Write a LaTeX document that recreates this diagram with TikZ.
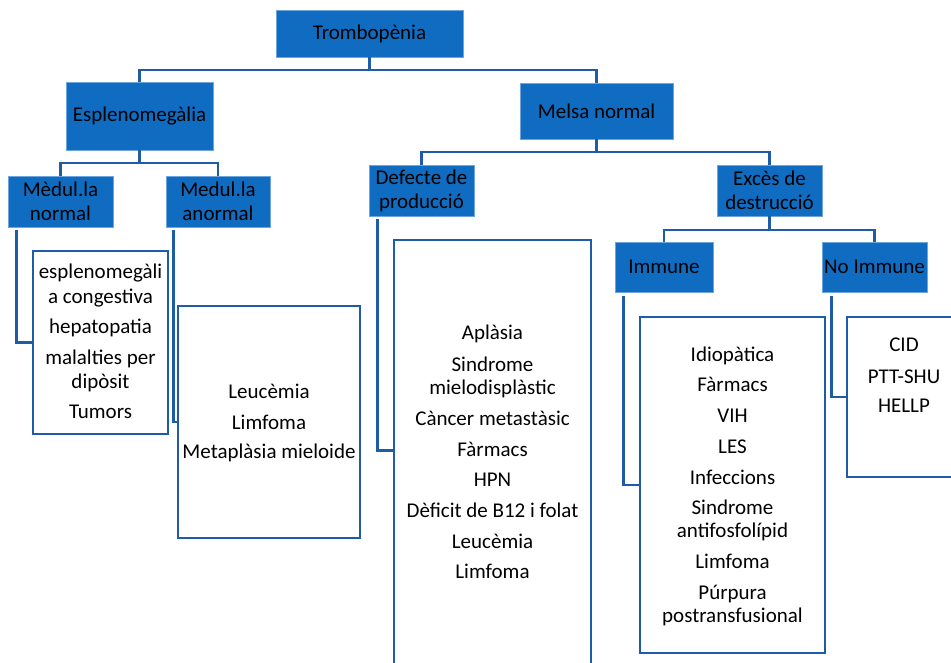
\documentclass[tikz,border=0pt]{standalone}
\usepackage{fontspec}
\setmainfont{Carlito}
\usetikzlibrary{calc}
\definecolor{boxfill}{RGB}{16,108,192}
\definecolor{boxedge}{RGB}{110,165,220}
\definecolor{linecol}{RGB}{30,92,165}
\begin{document}
\begin{tikzpicture}[x=1pt,y=-1pt,
  hdr/.style={rectangle, fill=boxfill, draw=boxedge, line width=0.8pt, align=center, inner sep=0pt, text=black, font=\fontsize{21}{24}\selectfont},
  lst/.style={rectangle, draw=linecol, line width=2.7pt, inner sep=0pt},
  conn/.style={draw=linecol, line width=2.7pt},
  itm/.style={anchor=base, inner sep=0pt, text=black, font=\fontsize{21}{24}\selectfont}]
\useasboundingbox (0,0) rectangle (951,663);

% header boxes
\node[hdr, minimum width=187pt, minimum height=47pt] (trom) at (369.5,33.5) {Trombopènia};
\node[hdr, minimum width=147pt, minimum height=68pt] (esp) at (139.5,116) {Esplenomegàlia};
\node[hdr, minimum width=153pt, minimum height=56pt] (melsa) at (596.5,111) {Melsa normal};
\node[hdr, minimum width=105pt, minimum height=51pt] (mn) at (60.5,201.5) {Mèdul.la\\normal};
\node[hdr, minimum width=104pt, minimum height=51pt] (ma) at (218,201.5) {Medul.la\\anormal};
\node[hdr, minimum width=105pt, minimum height=51pt] (def) at (421.5,190.5) {Defecte de\\producció};
\node[hdr, minimum width=105pt, minimum height=51pt] (exc) at (769.5,190.5) {Excès de\\destrucció};
\node[hdr, minimum width=98pt, minimum height=50pt] (imm) at (664,267) {Immune};
\node[hdr, minimum width=105pt, minimum height=50pt] (noimm) at (874.5,267) {No Immune};

% list boxes
\node[lst, minimum width=135pt, minimum height=183pt] (L1) at (100.5,342.5) {};
\node[lst, minimum width=182pt, minimum height=232pt] (L2) at (269,422) {};
\node[lst, minimum width=197pt, minimum height=430pt] (L3) at (492.5,455) {};
\node[lst, minimum width=185pt, minimum height=336pt] (L4) at (732.5,485) {};
\node[lst, minimum width=114pt, minimum height=160pt] (L5) at (904,397) {};

% tree connectors
\coordinate (b1) at (369.5,70);
\draw[conn] (trom.south) -- (b1);
\draw[conn] (esp.north) -- (esp.north |- b1) -- (melsa.north |- b1) -- (melsa.north);
\coordinate (b2) at (139.5,163);
\draw[conn] (esp.south) -- (b2);
\draw[conn] (mn.north) -- (mn.north |- b2) -- (ma.north |- b2) -- (ma.north);
\coordinate (b3) at (596.5,152);
\draw[conn] (melsa.south) -- (b3);
\draw[conn] (def.north) -- (def.north |- b3) -- (exc.north |- b3) -- (exc.north);
\coordinate (b4) at (769.5,230);
\draw[conn] (exc.south) -- (b4);
\draw[conn] (imm.north) -- (imm.north |- b4) -- (noimm.north |- b4) -- (noimm.north);

% list connectors
\draw[conn] ($(mn.south west)+(9,3)$) |- (L1.west);
\draw[conn] ($(ma.south west)+(8,3)$) |- (L2.west);
\draw[conn] ($(def.south west)+(9,3)$) |- ($(L3.north west)+(0,212)$);
\draw[conn] ($(imm.south west)+(9,4)$) |- (L4.west);
\draw[conn] ($(noimm.south west)+(10,4)$) |- (L5.west);

% list texts
\foreach \t/\yy [count=\i] in {esplenomegàli/279, a congestiva/303, hepatopatia/333, malalties per/364, dipòsit/388, Tumors/418}
  \node[itm] (ta\i) at (100.5,\yy) {\t};
\foreach \t/\yy [count=\i] in {Leucèmia/398, Limfoma/429, Metaplàsia mieloide/458}
  \node[itm] (tb\i) at (269,\yy) {\t};
\foreach \t/\yy [count=\i] in {Aplàsia/339, Sindrome/371, mielodisplàstic/394, Càncer metastàsic/425, Fàrmacs/456, HPN/486, Dèficit de B12 i folat/517, Leucèmia/548, Limfoma/578}
  \node[itm] (tc\i) at (492.5,\yy) {\t};
\foreach \t/\yy [count=\i] in {Idiopàtica/361, Fàrmacs/391, VIH/422, LES/453, Infeccions/484, Sindrome/514, antifosfolípid/537, Limfoma/568, Púrpura/599, postransfusional/622}
  \node[itm] (td\i) at (732.5,\yy) {\t};
\foreach \t/\yy [count=\i] in {CID/351, PTT-SHU/383, HELLP/412}
  \node[itm] (te\i) at (904,\yy) {\t};
\end{tikzpicture}
\end{document}
